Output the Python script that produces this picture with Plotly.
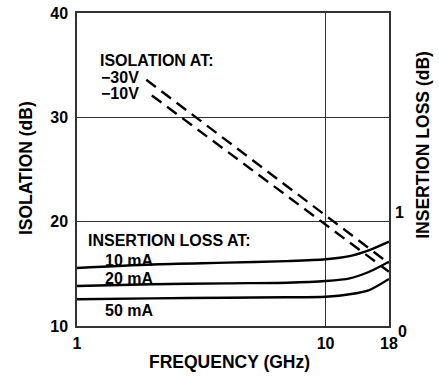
import plotly.graph_objects as go

# ---- data ----
freq_il = [1, 2, 4, 7, 10, 12.5, 15, 18]
il_10ma = [0.556, 0.59, 0.607, 0.622, 0.64, 0.67, 0.727, 0.808]
il_20ma = [0.384, 0.40, 0.409, 0.415, 0.431, 0.457, 0.52, 0.616]
il_50ma = [0.256, 0.265, 0.271, 0.275, 0.281, 0.304, 0.345, 0.451]

freq_iso_30 = [1.9, 18]
iso_30v = [33.6, 16.0]
freq_iso_10 = [2.0, 18]
iso_10v = [32.1, 15.2]

x_ticks = [1, 10, 18]
y_ticks = [10, 20, 30, 40]
y2_ticks = [0, 1]

FONT = "Liberation Sans, Arial, sans-serif"
fsz = 16
tsz = 17.5

fig = go.Figure()
for y in (il_10ma, il_20ma, il_50ma):
    fig.add_trace(go.Scatter(x=freq_il, y=y, yaxis="y2", mode="lines",
                             line=dict(color="black", width=2.4, shape="spline", smoothing=0.8),
                             showlegend=False, hoverinfo="skip"))
for fx, fy in ((freq_iso_30, iso_30v), (freq_iso_10, iso_10v)):
    fig.add_trace(go.Scatter(x=fx, y=fy, mode="lines",
                             line=dict(color="black", width=2.4, dash="12px,7px"),
                             showlegend=False, hoverinfo="skip"))

axcol = "#333333"
fig.update_layout(
    width=439, height=385,
    margin=dict(l=77, r=50, t=13, b=59),
    paper_bgcolor="white", plot_bgcolor="white",
    font=dict(family=FONT, size=fsz, color="black", weight="bold"),
    xaxis=dict(type="log", range=[0, 1.2553], tickvals=x_ticks, ticktext=[str(v) for v in x_ticks],
               showgrid=True, gridcolor=axcol, gridwidth=1, showline=True, mirror=True,
               linecolor=axcol, linewidth=1.5, ticks="", zeroline=False, automargin=False,
               tickfont=dict(family=FONT, size=fsz, weight="bold"), ticklabelstandoff=2),
    yaxis=dict(range=[10, 40], tickvals=y_ticks, showgrid=True, gridcolor=axcol, gridwidth=1,
               showline=True, mirror=True, linecolor=axcol, linewidth=1.5, ticks="", zeroline=False,
               automargin=False,
               tickfont=dict(family=FONT, size=fsz, weight="bold"), ticklabelstandoff=4),
    yaxis2=dict(range=[0, 3], overlaying="y", side="right", showgrid=False, showticklabels=False,
                zeroline=False, showline=False, automargin=False),
)

ann = []
def txt(t, x, y, xanchor="left", angle=0, xref="paper", yref="paper", yshift=0, size=fsz):
    ann.append(dict(text=t, x=x, y=y, xref=xref, yref=yref, xanchor=xanchor, yanchor="middle",
                    showarrow=False, textangle=angle, yshift=yshift,
                    font=dict(family=FONT, size=size, color="black", weight="bold")))

txt("ISOLATION AT:", 0.068, 0.849)
txt("\u221230V", 0.071, 0.795)
txt("\u221210V", 0.071, 0.742)
txt("INSERTION LOSS AT:", 0.030, 0.272)
txt("10 mA", 0.083, 0.208)
txt("20 mA", 0.083, 0.152)
txt("50 mA", 0.083, 0.051)
# right-axis tick labels
for v in y2_ticks:
    ann.append(dict(text=str(v), x=1.0, y=v, xref="paper", yref="y2", xanchor="left", yanchor="middle",
                    xshift=7 if v == 0 else 4, yshift=-5 if v == 0 else 9, showarrow=False,
                    font=dict(family=FONT, size=fsz, color="black", weight="bold")))
# axis titles
txt("ISOLATION (dB)", -0.163, 0.505, xanchor="center", angle=-90, size=tsz)
txt("INSERTION LOSS (dB)", 1.11, 0.58, xanchor="center", angle=-90, size=tsz)
txt("FREQUENCY (GHz)", 0.49, -0.115, xanchor="center", size=tsz)
fig.update_layout(annotations=ann)

fig.write_html("out.html", config={"displayModeBar": False},
               post_script="document.body.style.margin='0';document.body.style.overflow='hidden';")
